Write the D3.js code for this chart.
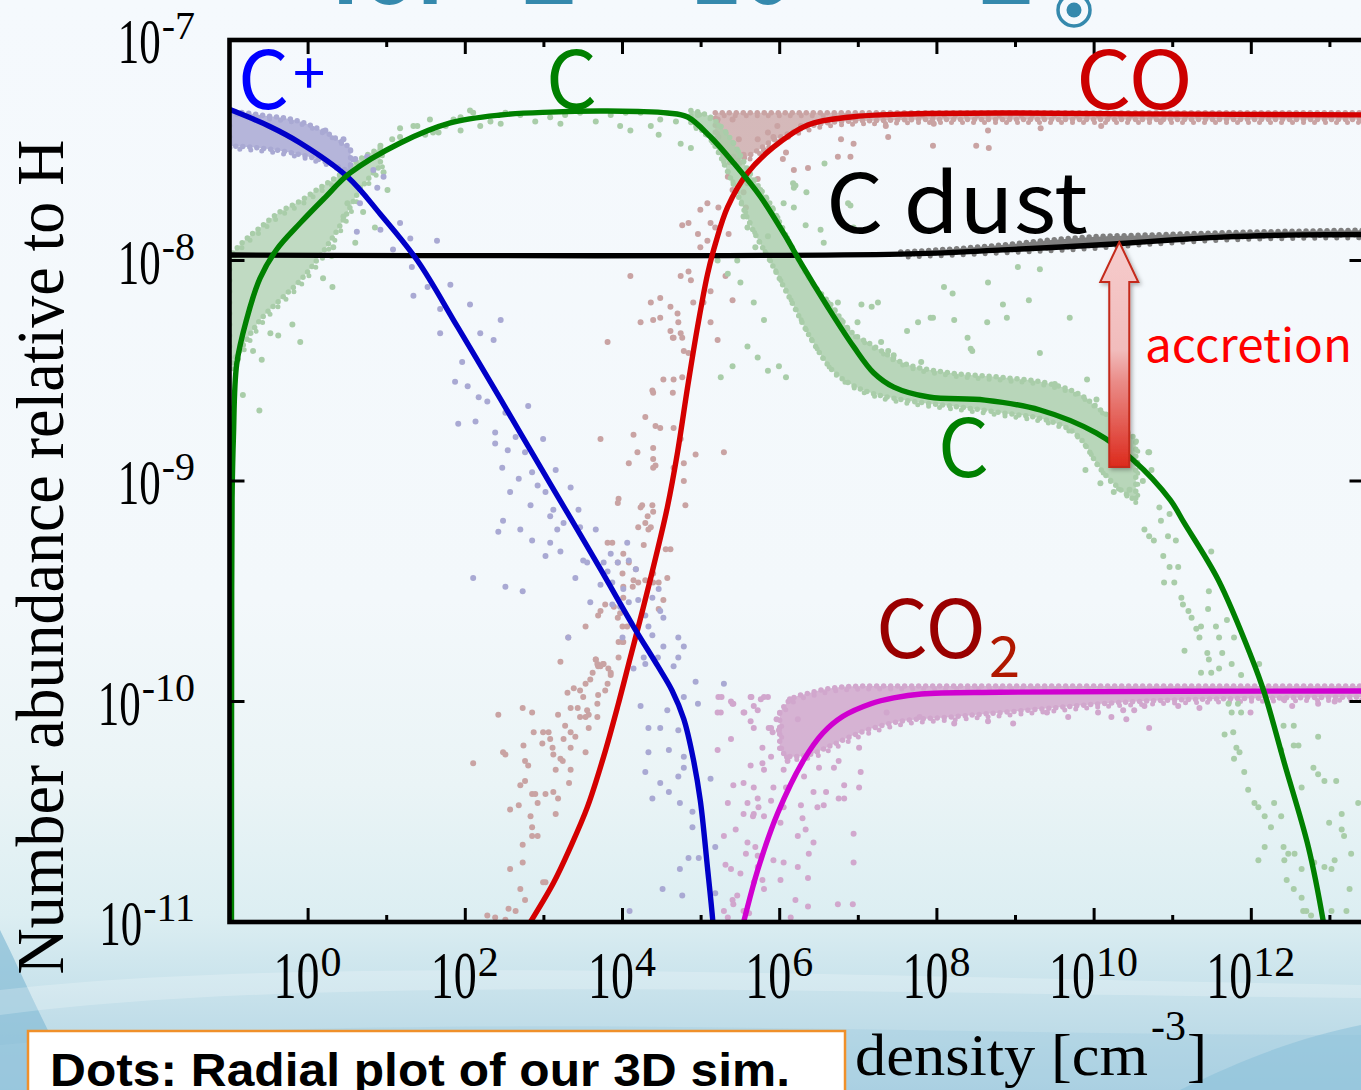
<!DOCTYPE html>
<html><head><meta charset="utf-8">
<script src="https://cdn.jsdelivr.net/npm/d3@7"></script>
<style>
html,body{margin:0;padding:0;overflow:hidden;background:#f5f9fd;}
svg{display:block;}
</style></head><body>
<svg id="chart" width="1361" height="1090"></svg>
<script>
// All values are stored as log10: density n [cm^-3] and abundance relative to H.

// Axis decades
const densityDecades = [0,1,2,3,4,5,6,7,8,9,10,11,12,13];
const labelledDensity = [0,2,4,6,8,10,12];
const abundanceDecades = [-11,-10,-9,-8,-7];

// Model curves (log10 n, log10 abundance)
const cplusN = [-1.02,-0.5,-0.1,0.5,0.92,1.39,1.9,2.45,2.87,3.3,3.72,4.14,4.45,4.63,4.78,4.9,4.99,5.08,5.15,5.2];
const cplusA = [-7.312,-7.39,-7.467,-7.62,-7.79,-8.00,-8.30,-8.63,-8.885,-9.145,-9.40,-9.66,-9.84,-9.95,-10.08,-10.26,-10.45,-10.75,-11.0,-11.25];

const carbonN = [-0.975,-0.972,-0.966,-0.95,-0.908,-0.781,-0.611,-0.40,-0.10,0.2,0.535,1.172,1.809,2.446,3.083,3.72,4.2,4.573,4.828,5.121,5.414,5.758,6.102,6.268,6.611,6.943,7.197,7.452,7.898,8.611,9.312,10.025,10.497,10.968,11.146,11.58,12.0,12.166,12.42,12.726,12.917,13.0];
const carbonA = [-11.3,-9.5,-9.05,-8.8,-8.469,-8.265,-8.08,-7.95,-7.83,-7.72,-7.603,-7.467,-7.376,-7.34,-7.327,-7.322,-7.324,-7.331,-7.349,-7.44,-7.558,-7.712,-7.907,-8.011,-8.211,-8.392,-8.51,-8.574,-8.619,-8.633,-8.678,-8.782,-8.905,-9.086,-9.19,-9.449,-9.798,-9.961,-10.279,-10.66,-11.0,-11.2];

const coN = [2.65,2.828,3.121,3.338,3.554,3.76,3.94,4.10,4.26,4.42,4.57,4.70,4.83,4.955,5.083,5.185,5.338,5.592,5.924,6.357,6.904,7.541,8.815,10.5,13.6];
const coA = [-11.1,-11.0,-10.823,-10.66,-10.478,-10.25,-10.02,-9.80,-9.58,-9.35,-9.12,-8.87,-8.57,-8.30,-8.06,-7.92,-7.757,-7.603,-7.485,-7.385,-7.349,-7.336,-7.331,-7.335,-7.34];

const co2N = [5.4,5.541,5.72,5.975,6.306,6.55,6.8,7.16,7.45,7.8,8.8,13.6];
const co2A = [-11.2,-11.0,-10.764,-10.506,-10.265,-10.143,-10.068,-10.01,-9.984,-9.966,-9.958,-9.952];

const dustN = [-1.1,7.54,8.84,9.58,10.25,10.98,11.67,12.64,13.6];
const dustA = [-7.975,-7.971,-7.952,-7.939,-7.925,-7.907,-7.893,-7.884,-7.882];

// Dense parts of the simulation scatter: [log n, upper log abundance, lower log abundance]
const cplusBand = [[-1.02,-7.32,-7.48],[-0.61,-7.34,-7.49],[-0.10,-7.37,-7.52],[0.28,-7.43,-7.56],[0.54,-7.49,-7.60]];
const carbonLowBand = [[-1.02,-7.99,-8.50],[-0.87,-7.93,-8.41],[-0.61,-7.85,-8.27],[-0.36,-7.78,-8.18],[-0.10,-7.73,-8.09],[0.15,-7.67,-7.98],[0.41,-7.61,-7.84],[0.66,-7.54,-7.68],[0.92,-7.49,-7.57]];
const carbonBand = [[4.87,-7.32,-7.38],[5.12,-7.35,-7.45],[5.38,-7.45,-7.63],[5.63,-7.61,-7.84],[5.89,-7.75,-8.01],[6.14,-7.93,-8.18],[6.39,-8.09,-8.35],[6.65,-8.20,-8.49],[6.90,-8.32,-8.56],[7.16,-8.38,-8.60],[7.54,-8.46,-8.63],[8.18,-8.51,-8.66],[8.82,-8.53,-8.69],[9.45,-8.56,-8.73],[9.83,-8.61,-8.81],[10.09,-8.68,-8.95],[10.34,-8.75,-9.04],[10.53,-8.81,-9.09]];
const coBand = [[5.18,-7.33,-7.45],[5.38,-7.33,-7.55],[5.63,-7.33,-7.52],[5.89,-7.33,-7.46],[6.14,-7.33,-7.42],[6.39,-7.33,-7.39],[6.78,-7.33,-7.37],[7.29,-7.33,-7.365],[7.92,-7.33,-7.36],[8.82,-7.33,-7.36],[13.6,-7.33,-7.36]];
const co2Band = [[6.0,-10.05,-10.22],[6.14,-9.99,-10.25],[6.39,-9.96,-10.24],[6.65,-9.94,-10.20],[7.03,-9.93,-10.14],[7.54,-9.93,-10.09],[8.18,-9.93,-10.07],[8.82,-9.93,-10.05],[9.45,-9.93,-10.03],[10.09,-9.93,-10.01],[11.36,-9.93,-9.99],[13.6,-9.93,-9.98]];
const dustBand = [[7.54,-7.962,-7.972],[8.18,-7.948,-7.962],[8.82,-7.930,-7.952],[9.45,-7.907,-7.942],[9.96,-7.893,-7.932],[10.73,-7.884,-7.912],[12.0,-7.871,-7.89],[13.6,-7.862,-7.883]];

// Individual simulation cells: [log n, log abundance]
const cplusDots = [[0.22,-7.41],[0.45,-7.45],[0.60,-7.54],[0.75,-7.53],[0.83,-7.59],[0.96,-7.62],[0.88,-7.67],[0.66,-7.74],[1.17,-7.83],[0.92,-7.86],[0.62,-7.87],[1.08,-7.95],[1.30,-7.90],[1.64,-7.91],[1.32,-8.03],[1.52,-8.12],[1.34,-8.16],[1.68,-8.22],[1.81,-8.11],[2.06,-8.20],[2.45,-8.27],[1.68,-8.33],[2.19,-8.33],[2.36,-8.36],[1.96,-8.46],[1.87,-8.55],[2.03,-8.57],[2.17,-8.62],[2.28,-8.64],[2.13,-8.73],[1.91,-8.74],[2.38,-8.78],[2.38,-8.83],[2.51,-8.69],[2.54,-8.86],[2.47,-8.94],[2.57,-9.05],[2.48,-9.18],[2.42,-9.23],[2.10,-9.44],[2.51,-9.48],[2.80,-8.66],[2.64,-8.80],[2.99,-8.81],[2.76,-8.87],[3.15,-8.95],[2.68,-8.99],[2.85,-8.96],[2.92,-9.02],[3.02,-9.05],[3.34,-9.03],[2.83,-9.11],[3.12,-9.13],[3.44,-9.13],[3.08,-9.16],[3.25,-9.19],[2.70,-9.22],[3.17,-9.22],[3.46,-9.21],[3.66,-9.22],[3.08,-9.28],[2.85,-9.27],[3.02,-9.34],[3.21,-9.32],[3.50,-9.36],[3.85,-9.33],[4.06,-9.28],[3.76,-9.37],[3.55,-9.37],[3.94,-9.37],[4.08,-9.36],[4.17,-9.40],[3.81,-9.41],[3.40,-9.44],[3.72,-9.47],[3.87,-9.46],[4.01,-9.49],[4.08,-9.55],[3.97,-9.57],[4.20,-9.54],[4.38,-9.53],[4.46,-9.49],[3.59,-9.55],[3.87,-9.56],[4.29,-9.61],[4.48,-9.59],[4.52,-9.62],[4.33,-9.66],[4.38,-9.70],[4.52,-9.75],[4.71,-9.71],[4.78,-9.75],[4.71,-9.80],[4.65,-9.84],[4.45,-9.80],[4.29,-9.83],[4.14,-9.85],[4.00,-9.71],[3.31,-9.71],[2.73,-9.50],[4.27,-9.80],[4.93,-9.91],[4.96,-10.01],[4.78,-9.98],[4.57,-10.04],[4.23,-10.02],[4.48,-10.12],[4.33,-10.12],[4.71,-10.13],[4.59,-10.22],[4.33,-10.23],[4.78,-10.25],[4.78,-10.30],[4.29,-10.32],[4.71,-10.34],[4.48,-10.37],[4.59,-10.41],[4.73,-10.46],[4.38,-10.44],[4.89,-10.50],[4.89,-10.57],[5.12,-10.35],[5.18,-10.66],[4.84,-10.71],[4.97,-10.71],[4.73,-10.76],[4.51,-10.85],[4.76,-10.88],[5.18,-10.87],[4.09,-10.95],[5.29,-9.92]];

const carbonDots = [[1.34,-7.39],[1.39,-7.39],[1.59,-7.42],[1.66,-7.42],[2.10,-7.33],[2.45,-7.38],[1.94,-7.41],[1.85,-7.36],[0.92,-7.48],[1.07,-7.45],[1.17,-7.44],[0.96,-7.60],[0.66,-7.67],[1.01,-7.68],[0.50,-7.74],[0.32,-7.94],[0.19,-8.08],[0.31,-8.12],[-0.10,-8.37],[-0.20,-8.29],[-0.38,-8.34],[-0.62,-8.68],[-0.83,-8.61],[-0.96,-8.67],[-0.59,-8.45],[-0.70,-8.41],[-0.48,-8.33],[0.45,-7.80],[0.70,-7.78],[0.85,-7.85],[0.60,-7.92],[0.30,-7.98],
[1.55,-7.36],[1.94,-7.35],[2.32,-7.37],[2.70,-7.34],[3.08,-7.35],[3.46,-7.33],[3.85,-7.34],[4.23,-7.33],[4.48,-7.36],[3.97,-7.39],[3.21,-7.38],[2.06,-7.32],[1.17,-7.40],[1.75,-7.39],[2.51,-7.33],[2.89,-7.37],[3.27,-7.34],[3.66,-7.37],[4.04,-7.33],[4.36,-7.39],[4.68,-7.37],[1.49,-7.43],[2.19,-7.39],
[4.10,-7.41],[4.46,-7.43],[4.74,-7.47],[4.87,-7.49],[4.96,-7.34],[6.18,-7.67],[6.05,-7.74],[6.33,-7.84],[6.56,-7.92],[6.94,-7.85],[6.90,-7.75],[7.25,-8.19],[6.74,-8.19],[6.99,-8.28],[8.09,-8.12],[8.65,-8.10],[8.22,-8.27],[8.39,-8.35],[7.92,-8.26],[7.45,-8.43],[8.43,-8.40],[7.80,-8.46],[5.59,-8.39],[5.72,-8.44],[5.85,-8.50],[5.99,-8.48],[6.08,-8.53],[5.25,-8.53],[5.40,-8.48],[5.80,-8.27],[5.67,-8.19],[5.50,-8.10],[5.34,-8.06],[5.21,-8.00],[5.46,-8.00],[5.69,-7.94],[5.85,-7.89],[5.59,-7.85],[5.54,-7.80],[6.17,-7.65],[6.52,-7.86],[6.18,-7.76],
[6.57,-7.56],[6.34,-7.69],[6.20,-7.66],[6.87,-7.74],[8.20,-8.15],[8.84,-8.20],[9.17,-8.18],[9.69,-8.26],[9.03,-8.03],[9.31,-8.04],[7.95,-8.26],[7.76,-8.28],[7.62,-8.32],[7.17,-8.21],[7.04,-8.20],[8.45,-8.41],[8.64,-8.28],[8.89,-8.26],[9.31,-8.42],[9.50,-8.56],[9.91,-8.54],[10.03,-8.63],[10.69,-8.87],[10.73,-8.95],[9.89,-8.95],[10.45,-9.04],[10.25,-9.05],[10.08,-9.01],[7.29,-8.37],[7.38,-8.41],
[10.70,-8.87],[10.62,-9.00],[10.83,-9.12],[10.96,-9.15],[10.64,-9.22],[10.85,-9.18],[10.94,-9.25],[11.04,-9.27],[10.76,-9.27],[10.70,-9.25],[10.88,-9.34],[10.96,-9.39],[11.07,-9.39],[10.89,-9.46],[11.02,-9.46],[11.11,-9.53],[11.13,-9.56],[11.20,-9.59],[11.24,-9.62],[11.36,-9.66],[11.30,-9.67],[11.45,-9.58],[11.46,-9.50],[11.49,-9.32],[11.69,-9.63],[11.55,-9.66],[11.34,-9.71],[11.59,-9.71],[11.63,-9.78],[11.44,-9.78],[11.46,-9.81],[11.15,-9.77],[11.36,-9.87],[11.49,-9.87],[11.59,-9.85],[11.78,-9.71],[11.75,-9.83],[11.87,-9.88],[12.10,-9.83],[11.71,-10.01],[11.75,-10.05],[11.87,-10.05],[11.66,-10.15],[11.77,-10.14],[11.81,-10.21],[11.85,-10.23],[11.78,-10.26],[11.91,-10.32],[11.96,-10.40],[12.04,-10.46],[12.09,-10.48],[12.17,-10.52],[12.29,-10.46],[12.25,-10.57],[12.38,-10.52],[12.41,-10.66],[12.47,-10.69],[12.55,-10.69],[12.45,-10.81],[12.54,-10.85],[12.64,-10.89],[12.70,-10.95],[12.76,-10.97],[12.09,-10.72],[12.17,-10.66],[12.42,-10.72],[12.64,-10.76],[12.80,-10.73],[12.93,-10.75],[13.02,-10.76],[13.06,-10.72],[12.99,-10.55],[13.15,-10.58],[13.18,-10.61],[13.15,-10.51],[13.08,-10.36],[12.93,-10.36],[12.85,-10.33],[12.64,-10.39],[12.38,-10.22],[12.54,-10.20],[12.60,-10.20],[12.41,-10.11],[12.54,-10.11],[12.85,-10.16],[12.79,-10.30],[13.25,-10.85],[13.21,-10.95],[12.66,-10.95],[13.02,-10.95],[13.36,-10.46],[13.27,-10.69],[11.83,-10.01]];

const coDots = [[2.10,-10.28],[2.42,-10.06],[2.48,-10.23],[2.51,-10.24],[2.73,-10.03],[2.85,-10.05],[2.87,-10.14],[2.74,-10.20],[2.76,-10.27],[2.80,-10.29],[2.70,-10.38],[2.76,-10.36],[2.57,-10.49],[2.68,-10.47],[2.85,-10.42],[2.89,-10.42],[2.92,-10.46],[2.83,-10.52],[2.85,-10.57],[2.85,-10.61],[2.92,-10.61],[2.73,-10.65],[2.57,-10.76],[2.73,-10.73],[2.70,-10.85],[2.76,-10.90],[2.55,-10.94],[2.28,-10.97],[2.38,-10.98],[2.51,-10.99],[2.64,-10.95],[2.99,-10.14],[3.08,-10.17],[3.11,-10.21],[3.21,-10.26],[3.24,-10.27],[3.12,-10.24],[3.15,-10.31],[3.12,-10.41],[3.02,-10.42],[3.18,-10.44],[3.15,-10.51],[3.06,-10.14],[2.98,-10.19],[3.18,-10.06],[3.27,-10.11],[3.30,-9.96],[3.38,-9.94],[3.46,-9.95],[3.53,-9.92],[3.50,-9.98],[3.34,-10.03],[3.43,-10.03],[3.46,-10.07],[3.53,-10.07],[3.57,-10.06],[3.55,-10.04],[3.25,-10.17],[3.34,-10.21],[3.34,-10.14],[3.40,-10.16],[3.53,-10.23],[3.34,-10.31],[3.32,-10.37],[3.21,-9.82],[3.31,-9.71],[3.53,-9.66],[3.59,-9.90],[3.69,-9.84],[3.68,-9.83],[3.66,-9.81],[3.76,-9.83],[3.82,-9.85],[3.85,-9.88],[3.81,-9.92],[3.69,-9.97],[3.68,-10.01],[3.68,-10.07],[3.57,-10.12],[3.78,-9.95],[3.69,-9.61],[3.94,-9.62],[3.97,-9.60],[4.00,-9.66],[3.95,-9.73],[4.01,-9.73],[3.72,-9.59],[3.89,-9.57],[3.78,-9.56],[3.95,-9.80],[2.99,-10.82],[3.02,-10.82],
[3.72,-8.81],[3.94,-9.10],[3.95,-9.08],[4.14,-8.79],[4.19,-8.87],[4.08,-8.92],[4.29,-8.71],[4.42,-8.75],[4.48,-8.76],[4.39,-8.85],[4.39,-8.90],[4.42,-8.93],[4.39,-8.94],[4.38,-8.59],[4.39,-8.60],[4.64,-8.60],[4.52,-8.54],[4.65,-8.54],[4.23,-9.12],[4.25,-9.11],[4.38,-9.11],[4.32,-9.16],[4.20,-9.21],[4.29,-9.19],[4.36,-9.21],[4.33,-9.22],[4.27,-9.29],[4.55,-9.31],[4.39,-9.14],[3.81,-9.28],[3.87,-9.28],[4.01,-9.33],[3.94,-9.37],[4.08,-9.37],[4.17,-9.40],[4.00,-9.42],[4.14,-9.45],[4.20,-9.46],[4.39,-9.46],[4.46,-9.46],[4.57,-9.44],[4.39,-9.42],[4.01,-9.48],[4.13,-9.48],[4.01,-9.53],[4.52,-9.54],[4.46,-9.58],[4.06,-9.66],[4.00,-9.73],[3.66,-9.81],[3.72,-9.84],[3.75,-9.83],[3.85,-9.87],[3.62,-9.87],[4.78,-8.92],[4.80,-9.11],[4.65,-8.94],[4.93,-8.88],[5.29,-8.87],[4.65,-8.76],[4.74,-8.81],[4.61,-9.31],[4.29,-9.45],[4.78,-9.00],
[3.81,-8.37],[4.10,-8.07],[4.23,-8.28],[4.36,-8.19],[4.39,-8.27],[4.48,-8.17],[4.48,-8.26],[4.61,-8.32],[4.64,-8.35],[4.70,-8.24],[4.71,-8.28],[4.61,-8.21],[4.74,-8.33],[4.76,-8.35],[4.65,-8.35],[4.74,-8.07],[4.84,-8.05],[4.87,-8.09],[4.76,-7.84],[4.84,-7.83],[4.96,-7.88],[4.99,-7.94],[5.08,-7.91],[5.18,-7.85],[5.12,-7.83],[5.35,-7.88],[5.57,-7.76],[5.54,-7.69],[5.40,-7.68],[5.22,-7.76],[5.34,-7.62],[5.41,-7.53],[5.54,-7.52],[5.48,-7.45],[5.40,-7.36],[5.21,-7.36],[5.22,-7.44],[5.59,-7.65],[5.72,-7.63],[6.04,-7.54],[6.08,-7.51],[6.18,-7.59],[6.36,-7.58],[6.74,-7.53],[6.78,-7.45],[6.90,-7.53],[6.94,-7.47],[7.38,-7.44],[7.95,-7.48],[8.50,-7.48],[8.66,-7.49],[8.65,-7.41],[7.96,-7.38],[7.35,-7.39],[6.27,-7.39],[5.97,-7.39],[5.92,-7.44],[5.72,-7.45],[5.80,-7.50],[5.85,-7.42],[5.08,-7.74],[4.99,-7.77],[5.31,-8.07],[5.40,-8.18],[5.12,-8.14],[5.03,-8.19],[5.12,-8.28],[5.21,-8.36],[4.90,-8.19],[4.84,-8.42],[4.78,-8.41],[4.76,-8.53],[9.32,-7.40],[10.09,-7.39],[10.85,-7.37]];

const co2Dots = [[5.22,-9.98],[5.25,-10.05],[5.21,-10.05],[5.38,-10.00],[5.41,-10.01],[5.63,-9.98],[5.76,-9.99],[5.85,-9.98],[5.54,-10.05],[5.67,-10.02],[5.72,-10.04],[5.38,-10.17],[5.21,-10.22],[5.63,-10.09],[5.67,-10.12],[5.78,-10.21],[5.89,-10.12],[5.91,-10.14],[5.99,-10.13],[5.78,-10.28],[5.63,-10.29],[5.67,-10.39],[5.54,-10.37],[5.41,-10.38],[5.72,-10.44],[5.34,-10.46],[5.59,-10.46],[5.73,-10.48],[5.67,-10.51],[5.66,-10.52],[5.80,-10.52],[5.54,-10.51],[5.29,-10.61],[5.44,-10.58],[5.59,-10.64],[5.69,-10.66],[5.72,-10.70],[5.57,-10.69],[5.72,-10.75],[5.31,-10.74],[5.38,-10.76],[5.50,-10.78],[5.40,-10.90],[5.46,-10.88],[5.80,-10.85],[5.78,-10.81],[5.67,-10.82],[5.54,-10.95],[5.61,-10.96],[5.29,-10.95],[5.41,-10.92],[5.34,-10.98],[5.92,-10.72],[6.05,-10.73],[6.01,-10.81],[6.14,-10.98],[6.20,-10.90],[6.36,-10.93],[6.74,-10.92],[6.93,-10.92],[6.94,-10.73],[6.94,-10.60],[6.82,-10.44],[6.75,-10.44],[6.33,-10.58],[6.23,-10.61],[6.43,-10.64],[5.92,-10.39],[6.08,-10.39],[6.05,-10.48],[5.89,-10.45],[6.27,-10.47],[6.29,-10.53],[6.48,-10.48],[6.56,-10.47],[6.59,-10.41],[6.43,-10.41],[6.05,-10.31],[6.31,-10.34],[6.50,-10.30],[6.69,-10.30],[6.82,-10.38],[7.01,-10.39],[7.03,-10.32],[7.01,-10.21],[6.75,-10.27],[6.10,-10.27],[5.89,-10.25],[5.80,-10.31],[6.01,-10.55],[6.23,-10.75],[6.36,-10.80],[6.37,-10.69],
[5.26,-9.98],[5.40,-10.01],[5.55,-10.05],[5.64,-9.98],[5.80,-9.98],[5.96,-10.08],[5.86,-10.12],[6.13,-9.99],[6.23,-10.08],[7.36,-10.05],[7.78,-10.07],[8.22,-10.10],[8.65,-10.09],[8.97,-10.10],[9.40,-10.05],[9.67,-10.07],[10.05,-10.05],[10.37,-10.04],[11.07,-10.02],[11.34,-10.03],[11.99,-10.05],[12.52,-10.02],[13.06,-10.00],[10.64,-10.02],[10.22,-10.07],[10.41,-10.08],[10.51,-10.04],[10.70,-10.12],[12.85,-10.01],[12.41,-9.99]];

// Annotation: accretion arrow at log n = 10.32 from log X = -8.94 up to the dust curve
const arrowLogN = 10.32, arrowFromA = -8.937, arrowToA = -7.916;

const W = 1361, H = 1090;
const P = {left: 229.5, right: 1364.5, top: 40, bottom: 922};
const x = d3.scaleLog().domain([1e-1, Math.pow(10, 13.44)]).range([P.left, P.right]);
const y = d3.scaleLog().domain([1e-11, 1e-7]).range([P.bottom, P.top]);
const X = e => x(Math.pow(10, e));
const Y = e => y(Math.pow(10, e));

const svg = d3.select('#chart');
const defs = svg.append('defs');

// ---- page background ----
const bg = defs.append('linearGradient').attr('id','bg').attr('x1',0).attr('y1',0).attr('x2',0).attr('y2',1);
[[0,'#f5f9fd'],[0.55,'#f3f8fb'],[0.72,'#eaf4f6'],[0.84,'#dceef2'],[0.88,'#d0e7ee'],[1,'#b0d3e3']]
  .forEach(([o,c]) => bg.append('stop').attr('offset',o).attr('stop-color',c));
svg.append('rect').attr('width',W).attr('height',H).attr('fill','url(#bg)');

const swoosh = svg.append('g');
swoosh.append('path').attr('d','M0,930 C25,980 50,1040 80,1090 L0,1090 Z').attr('fill','#86bcd6').attr('opacity',0.7);
swoosh.append('path').attr('d','M0,990 C300,955 800,975 1361,985 L1361,998 C800,992 300,975 0,1015 Z').attr('fill','#ffffff').attr('opacity',0.22);
swoosh.append('path').attr('d','M0,1045 C400,1010 900,1035 1361,1035 L1361,1090 L0,1090 Z').attr('fill','#a2cde0').attr('opacity',0.4);
swoosh.append('path').attr('d','M1180,1090 C1250,1055 1310,1035 1361,1025 L1361,1090 Z').attr('fill','#88bfd8').attr('opacity',0.55);

// ---- title (runs off the top edge) ----
const teal = '#3589ad';
const title = svg.append('g').attr('fill', teal).attr('font-family','"Noto Sans CJK JP", "Noto Sans", sans-serif').attr('font-weight','bold').attr('font-size',88);
title.append('text').attr('x',330).attr('y',4).text('for');
title.append('text').attr('x',522).attr('y',4).text('Z');
title.append('text').attr('x',605).attr('y',4).text('=');
title.append('text').attr('x',690).attr('y',4).text('10');
title.append('text').attr('x',822).attr('y',-30).attr('font-size',56).text('-5');
title.append('text').attr('x',979).attr('y',4).text('Z');
title.append('circle').attr('cx',1074).attr('cy',10).attr('r',16).attr('fill','none').attr('stroke',teal).attr('stroke-width',3.5);
title.append('circle').attr('cx',1074).attr('cy',10).attr('r',7.5).attr('fill',teal);

// ---- plot ----
defs.append('clipPath').attr('id','plotClip').append('rect')
  .attr('x',P.left).attr('y',P.top).attr('width',P.right-P.left).attr('height',P.bottom-P.top);
const plot = svg.append('g').attr('clip-path','url(#plotClip)');

const colors = {
  cplusDot:'#a9a9d3', carbonDot:'#a9cda9', coDot:'#c9a3a3', co2Dot:'#d1a7cd', dustDot:'#7f7f7f',
  cplus:'#0000c8', carbon:'#008000', co:'#d40000', co2:'#d000d0', dust:'#000000'
};

const band = d3.area().curve(d3.curveMonotoneX)
  .x(d => X(d[0])).y0(d => Y(d[2])).y1(d => Y(d[1]));
function drawBand(data, color, op) {
  const d = band(data);
  plot.append('path').attr('d', d).attr('fill', color).attr('fill-opacity', op).attr('stroke','none');
  // speckled rim so the dense cloud frays into dots at its edges
  plot.append('path').attr('d', d).attr('fill','none').attr('stroke', color).attr('stroke-width', 5.5)
    .attr('stroke-linecap','round').attr('stroke-dasharray','0 7');
  plot.append('path').attr('d', d).attr('fill','none').attr('stroke', color).attr('stroke-width', 5)
    .attr('stroke-linecap','round').attr('stroke-dasharray','0 11').attr('stroke-dashoffset', 4)
    .attr('transform','translate(2,3)');
}
function drawDots(data, color) {
  plot.append('g').selectAll('circle').data(data).join('circle')
    .attr('cx', d => X(d[0])).attr('cy', d => Y(d[1])).attr('r', 3).attr('fill', color);
}

drawBand(co2Band, colors.co2Dot, 0.85);
drawDots(co2Dots, colors.co2Dot);
drawBand(coBand, colors.coDot, 0.75);
drawDots(coDots, colors.coDot);
drawBand(carbonLowBand, colors.carbonDot, 0.7);
drawBand(carbonBand, colors.carbonDot, 0.8);
drawDots(carbonDots, colors.carbonDot);
drawBand(cplusBand, colors.cplusDot, 0.85);
drawDots(cplusDots, colors.cplusDot);
drawBand(dustBand, colors.dustDot, 1);

const line = d3.line().curve(d3.curveCatmullRom.alpha(0.5)).x(d => X(d[0])).y(d => Y(d[1]));
const zip = (a, b) => a.map((v, i) => [v, b[i]]);
[[co2N, co2A, colors.co2], [dustN, dustA, colors.dust], [coN, coA, colors.co],
 [cplusN, cplusA, colors.cplus], [carbonN, carbonA, colors.carbon]]
  .forEach(([n, a, c]) => {
    plot.append('path').attr('d', line(zip(n, a))).attr('fill','none')
      .attr('stroke', c).attr('stroke-width', 5.4).attr('stroke-linejoin','round');
  });

// ---- frame and ticks ----
const axes = svg.append('g').attr('stroke','#000');
axes.append('rect').attr('x',P.left).attr('y',P.top).attr('width',P.right-P.left).attr('height',P.bottom-P.top)
  .attr('fill','none').attr('stroke-width',4.6);
densityDecades.forEach(e => {
  const len = labelledDensity.includes(e) ? 14 : 7;
  const xx = X(e);
  axes.append('line').attr('x1',xx).attr('x2',xx).attr('y1',P.bottom).attr('y2',P.bottom-len).attr('stroke-width',3);
  axes.append('line').attr('x1',xx).attr('x2',xx).attr('y1',P.top).attr('y2',P.top+len).attr('stroke-width',3);
});
abundanceDecades.slice(1, -1).forEach(e => {
  const yy = Y(e);
  axes.append('line').attr('x1',P.left).attr('x2',P.left+15).attr('y1',yy).attr('y2',yy).attr('stroke-width',3);
  axes.append('line').attr('x1',P.right).attr('x2',P.right-15).attr('y1',yy).attr('y2',yy).attr('stroke-width',3);
});

// tick labels: 10 with a raised exponent, set in a tall serif
const serif = '"Liberation Serif", "Times New Roman", serif';
const tickLabels = svg.append('g').attr('fill','#000').attr('font-family', serif);
labelledDensity.forEach(e => {
  const g = tickLabels.append('g');
  const base = g.append('text').attr('font-size',46).attr('transform','scale(1,1.45)').text('10');
  const w1 = base.node().getComputedTextLength();
  const sup = g.append('text').attr('font-size',42).attr('x',w1+1).attr('y',-22).text(String(e));
  const w2 = sup.node().getComputedTextLength();
  g.attr('transform', `translate(${X(e) - (w1 + w2) / 2 - 1},998)`);
});
abundanceDecades.forEach(e => {
  const g = tickLabels.append('g');
  const base = g.append('text').attr('font-size',43).attr('transform','scale(1,1.45)').text('10');
  const w1 = base.node().getComputedTextLength();
  const sup = g.append('text').attr('font-size',40).attr('x',w1+1).attr('y',-24).text(String(e));
  const w2 = sup.node().getComputedTextLength();
  g.attr('transform', `translate(${195 - w1 - w2 - 1},${Y(e) + 23})`);
});

// axis titles
svg.append('text').attr('transform','translate(63,557) rotate(-90)').attr('text-anchor','middle')
  .attr('font-family', serif).attr('font-size',68).attr('textLength',835).attr('lengthAdjust','spacingAndGlyphs')
  .text('Number abundance relative to H');
const xt = svg.append('g').attr('font-family', serif).attr('fill','#000');
xt.append('text').attr('x',855).attr('y',1075).attr('font-size',60).attr('textLength',293).attr('lengthAdjust','spacingAndGlyphs').text('density [cm');
xt.append('text').attr('x',1151).attr('y',1040).attr('font-size',42).text('-3');
xt.append('text').attr('x',1187).attr('y',1075).attr('font-size',60).text(']');

// ---- species labels ----
const sans = '"Noto Sans CJK JP", "Noto Sans", sans-serif';
const lab = svg.append('g').attr('font-family', sans);
lab.append('text').attr('x',238).attr('y',109).attr('font-size',80).attr('fill','#0000ff').text('C');
lab.append('text').attr('x',293).attr('y',94).attr('font-size',58).attr('fill','#0000ff').text('+');
lab.append('text').attr('x',546).attr('y',109).attr('font-size',80).attr('fill','#008000').text('C');
lab.append('text').attr('x',1076).attr('y',109).attr('font-size',80).attr('fill','#cc0000').attr('textLength',117).attr('lengthAdjust','spacingAndGlyphs').text('CO');
lab.append('text').attr('x',826).attr('y',233).attr('font-size',82).attr('fill','#000').attr('textLength',262).attr('lengthAdjust','spacingAndGlyphs').text('C dust');
lab.append('text').attr('x',938).attr('y',477).attr('font-size',80).attr('fill','#008000').text('C');
lab.append('text').attr('x',876).attr('y',658).attr('font-size',80).attr('fill','#990000').attr('textLength',110).attr('lengthAdjust','spacingAndGlyphs').text('CO');
lab.append('text').attr('x',989).attr('y',677).attr('font-size',56).attr('fill','#b01800').text('2');
lab.append('text').attr('x',1145).attr('y',362).attr('font-size',46).attr('fill','#ff0000').attr('textLength',207).attr('lengthAdjust','spacingAndGlyphs').text('accretion');

// ---- accretion arrow ----
const ag = defs.append('linearGradient').attr('id','arrowFill').attr('gradientUnits','userSpaceOnUse')
  .attr('x1',0).attr('x2',0).attr('y1',Y(arrowToA)).attr('y2',Y(arrowFromA));
[[0,'#f6cccc'],[0.48,'#f1bcbc'],[0.62,'#ea8c88'],[1,'#dc2a1c']].forEach(([o,c]) => ag.append('stop').attr('offset',o).attr('stop-color',c));
const sh = defs.append('filter').attr('id','shadow').attr('x','-50%').attr('y','-10%').attr('width','200%').attr('height','120%');
sh.append('feDropShadow').attr('dx',2).attr('dy',2).attr('stdDeviation',2).attr('flood-color','#000').attr('flood-opacity',0.3);
{
  const ax = X(arrowLogN), yt = Y(arrowToA), yb = Y(arrowFromA), yh = yt + 40;
  const d = `M${ax-10},${yb} L${ax-10},${yh} L${ax-19},${yh} L${ax},${yt} L${ax+19},${yh} L${ax+10},${yh} L${ax+10},${yb} Z`;
  svg.append('path').attr('d', d).attr('fill','url(#arrowFill)').attr('stroke','#c42a1a').attr('stroke-width',2)
    .attr('stroke-linejoin','miter').attr('filter','url(#shadow)');
}

// ---- note box ----
svg.append('rect').attr('x',28).attr('y',1031).attr('width',817).attr('height',90)
  .attr('fill','#ffffff').attr('stroke','#f0902a').attr('stroke-width',2.5);
svg.append('text').attr('x',50).attr('y',1086).attr('font-family','"Liberation Sans", Arial, sans-serif')
  .attr('font-weight','bold').attr('font-size',46).attr('textLength',740).attr('lengthAdjust','spacingAndGlyphs')
  .attr('fill','#000').text('Dots: Radial plot of our 3D sim.');
</script>
</body></html>
